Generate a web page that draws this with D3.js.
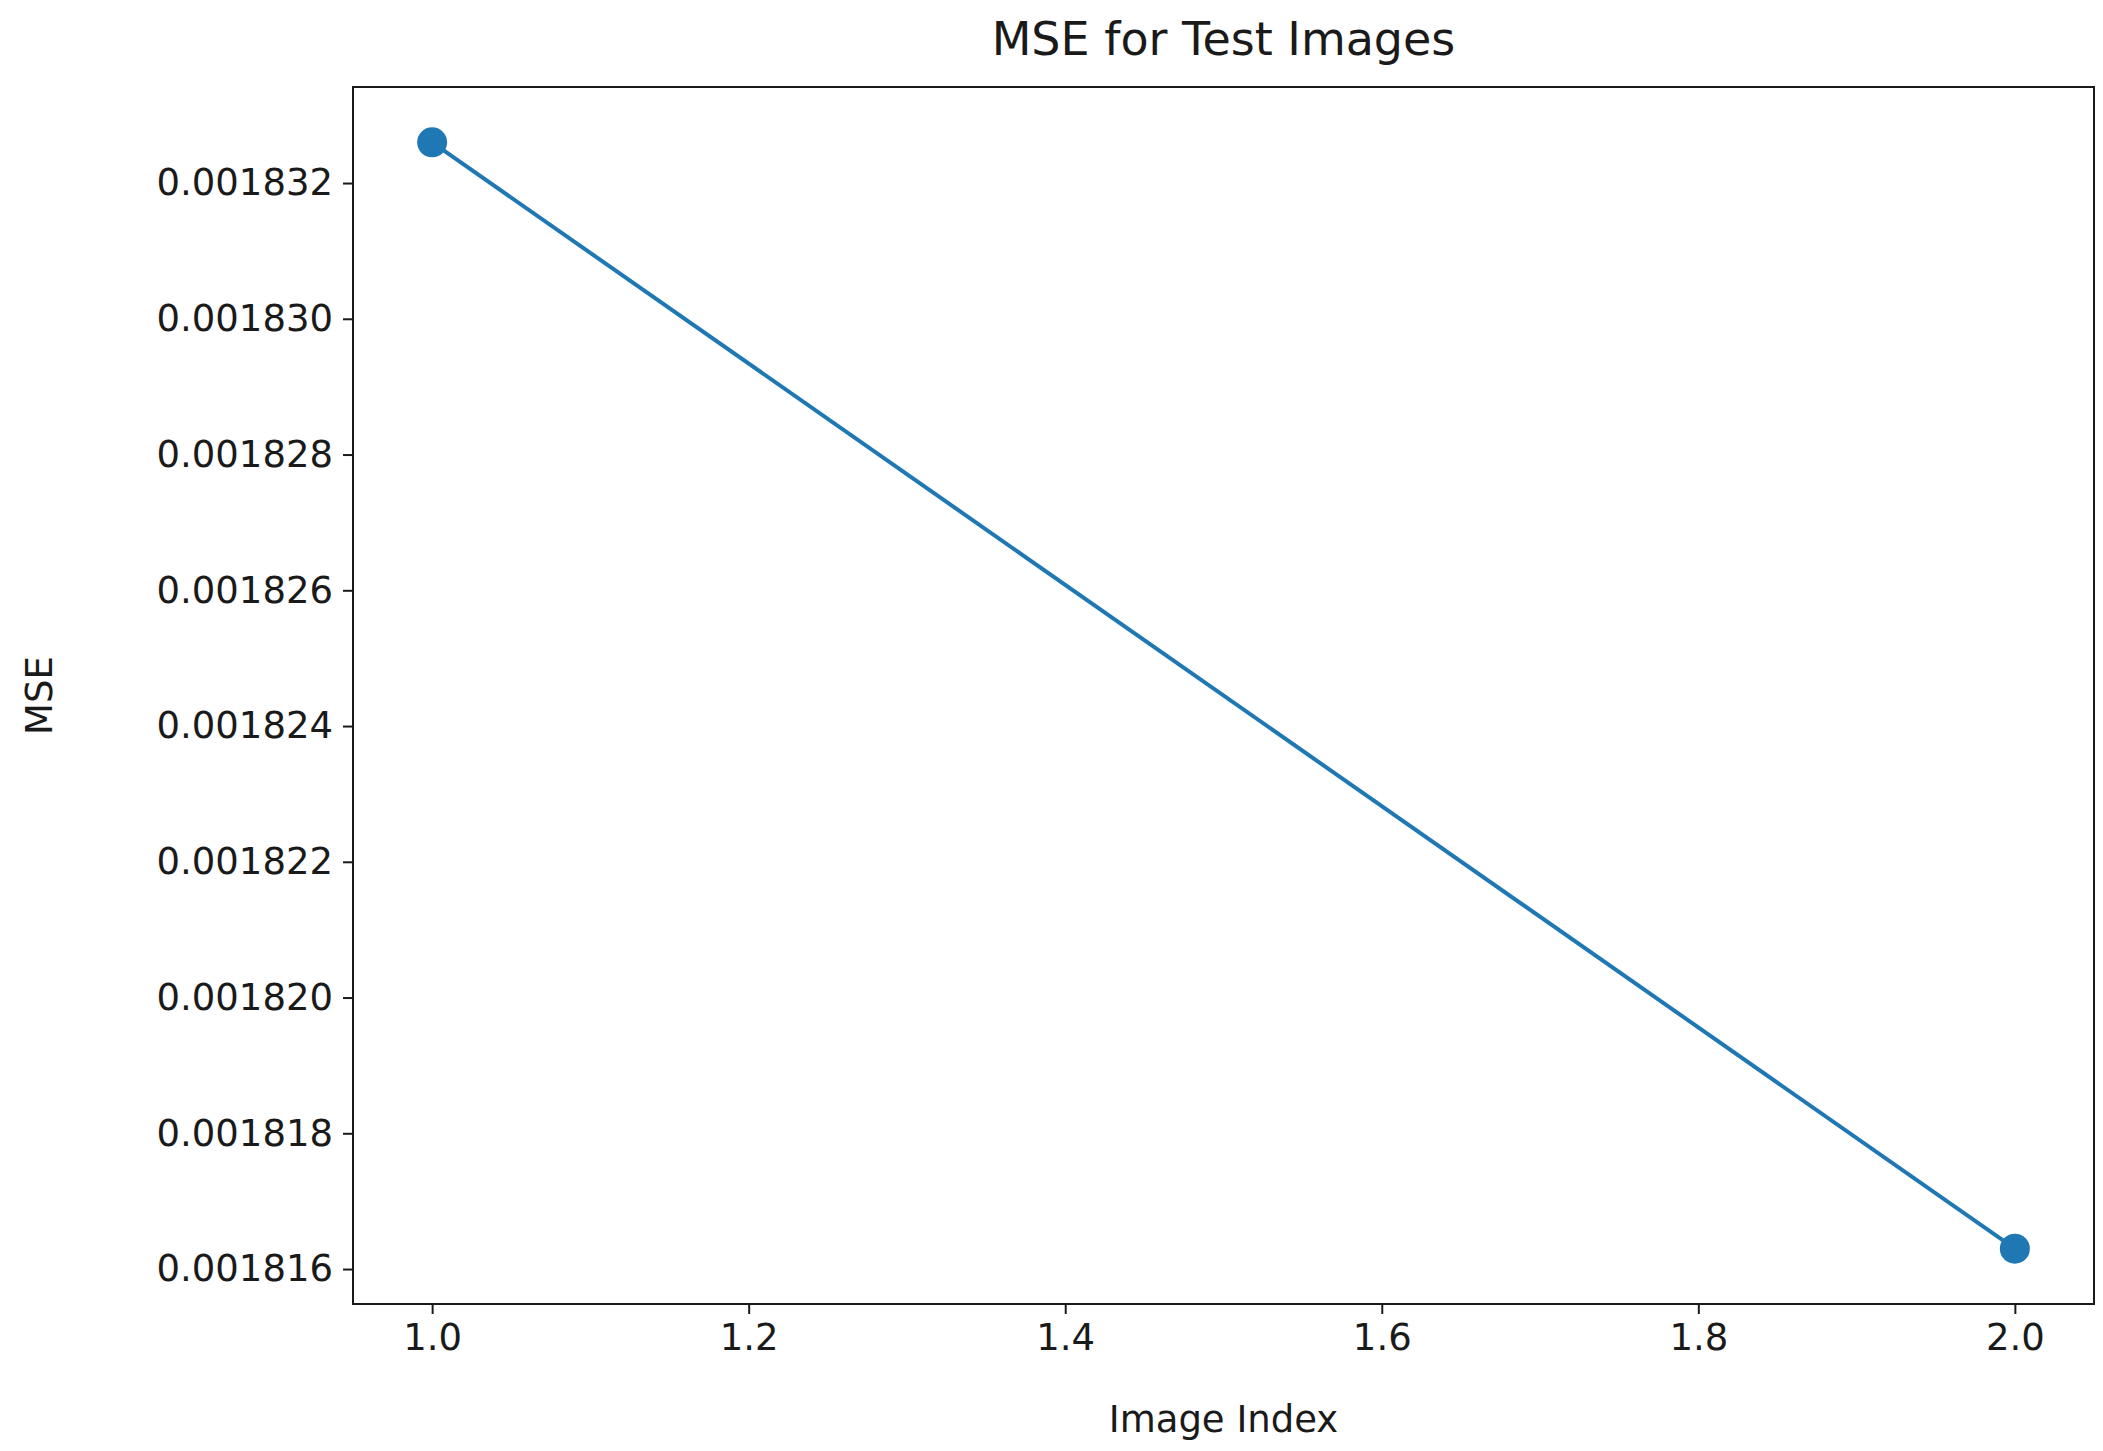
<!DOCTYPE html>
<html>
<head>
<meta charset="utf-8">
<script src="https://cdn.jsdelivr.net/npm/d3@7"></script>
<style>
  body { margin: 0; background: #fff; }
  text { font-family: "DejaVu Sans", sans-serif; fill: #1a1a1a; }
</style>
</head>
<body>
<svg id="chart" width="2103" height="1451"></svg>
<script>
// data
var imageIndex = [1, 2];
var mseValues = [0.0018326, 0.0018163];
var xTicks = [1.0, 1.2, 1.4, 1.6, 1.8, 2.0];
var yTicks = [0.001816, 0.001818, 0.001820, 0.001822, 0.001824, 0.001826, 0.001828, 0.001830, 0.001832];

var svg = d3.select("#chart");
var m = {left: 353, right: 2094, top: 87, bottom: 1304};

var x = d3.scaleLinear().domain([0.95, 2.05]).range([m.left, m.right]);
var yPad = (mseValues[0] - mseValues[1]) * 0.05;
var y = d3.scaleLinear()
    .domain([mseValues[1] - yPad, mseValues[0] + yPad])
    .range([m.bottom, m.top]);

var xAxis = svg.append("g")
    .attr("transform", "translate(0," + m.bottom + ")")
    .call(d3.axisBottom(x).tickValues(xTicks).tickFormat(d3.format(".1f")).tickSize(10).tickPadding(10));
var yAxis = svg.append("g")
    .attr("transform", "translate(" + m.left + ",0)")
    .call(d3.axisLeft(y).tickValues(yTicks).tickFormat(d3.format(".6f")).tickSize(10).tickPadding(10));
[xAxis, yAxis].forEach(function (a) {
    a.select(".domain").remove();
    a.selectAll("line").attr("stroke", "#1a1a1a").attr("stroke-width", 2);
    a.selectAll("text").style("font-size", "37px").attr("fill", "#1a1a1a");
});

// frame
svg.append("rect")
    .attr("x", m.left).attr("y", m.top)
    .attr("width", m.right - m.left).attr("height", m.bottom - m.top)
    .attr("fill", "none").attr("stroke", "#1a1a1a").attr("stroke-width", 2);

var pts = imageIndex.map(function (d, i) { return [d, mseValues[i]]; });
svg.append("path")
    .datum(pts)
    .attr("fill", "none")
    .attr("stroke", "#1f77b4")
    .attr("stroke-width", 4)
    .attr("d", d3.line().x(function (d) { return x(d[0]); }).y(function (d) { return y(d[1]); }));
svg.selectAll("circle.pt").data(pts).enter().append("circle")
    .attr("class", "pt")
    .attr("cx", function (d) { return x(d[0]); })
    .attr("cy", function (d) { return y(d[1]); })
    .attr("r", 15)
    .attr("fill", "#1f77b4");

svg.append("text")
    .attr("x", (m.left + m.right) / 2).attr("y", 55)
    .attr("text-anchor", "middle")
    .style("font-size", "46px")
    .text("MSE for Test Images");
svg.append("text")
    .attr("x", (m.left + m.right) / 2).attr("y", 1432)
    .attr("text-anchor", "middle")
    .style("font-size", "37px")
    .text("Image Index");
svg.append("text")
    .attr("transform", "translate(52," + ((m.top + m.bottom) / 2) + ") rotate(-90)")
    .attr("text-anchor", "middle")
    .style("font-size", "37px")
    .text("MSE");
</script>
</body>
</html>
